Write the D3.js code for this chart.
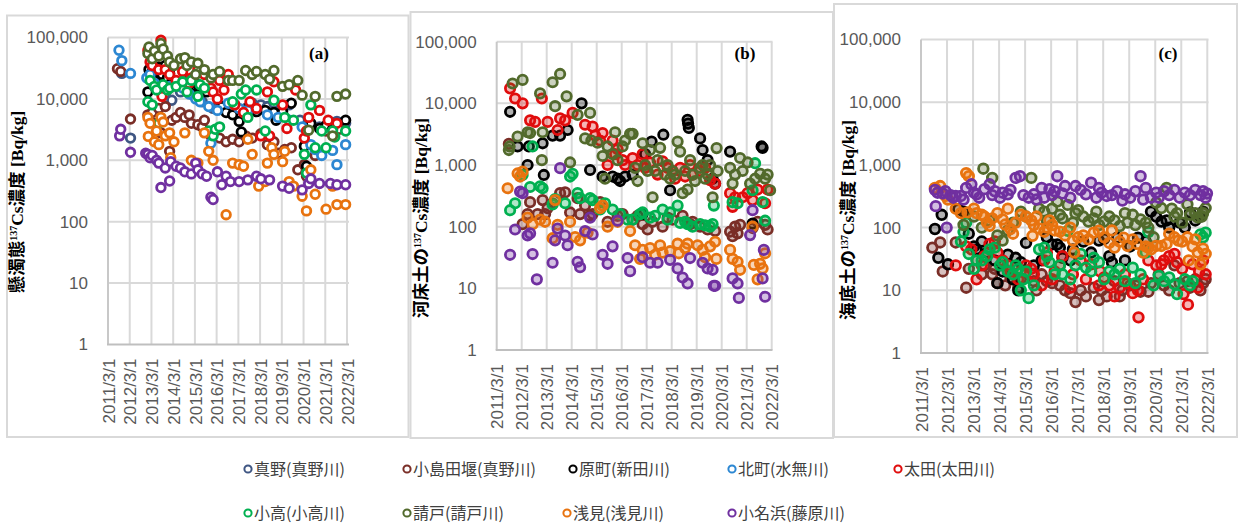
<!DOCTYPE html>
<html><head><meta charset="utf-8">
<script src="https://cdn.jsdelivr.net/npm/d3@7"></script>
<style>body{margin:0;background:#fff;}svg{display:block;}</style>
</head><body><svg id="chart" width="1239" height="524"></svg>
<script>
// ---------- DATA ----------
const seriesNames = ["真野(真野川)","小島田堰(真野川)","原町(新田川)","北町(水無川)","太田(太田川)","小高(小高川)","請戸(請戸川)","浅見(浅見川)","小名浜(藤原川)"];
const yTickValues = [1,10,100,1000,10000,100000];
const yTickLabels = ["1","10","100","1,000","10,000","100,000"];
const xTickYears = [2011,2012,2013,2014,2015,2016,2017,2018,2019,2020,2021,2022];
const xTickLabels = ["2011/3/1","2012/3/1","2013/3/1","2014/3/1","2015/3/1","2016/3/1","2017/3/1","2018/3/1","2019/3/1","2020/3/1","2021/3/1","2022/3/1"];
const panelLabels = ["(a)","(b)","(c)"];
const titlePrefixes = ["懸濁態","河床土の","海底土の"];

// Panel (a) suspended solids  [decimal year, Bq/kg]
const a_mano = [[2011.8,26000],[2012.2,2300],[2013.0,22000],[2013.3,17000],[2013.8,12000],[2014.1,9500],[2014.5,13000],[2015.0,12000],[2015.5,9000],[2016.0,7000],[2016.5,7500],[2017.0,8000],[2017.5,7000],[2017.8,8500],[2018.2,8000],[2018.5,7500],[2018.8,8500],[2019.2,7000],[2019.5,8000],[2020.0,4500],[2020.5,1400],[2020.9,3500],[2021.3,3800],[2021.7,4300],[2022.1,4000]];
const a_kojima = [[2011.6,31000],[2011.75,28000],[2012.2,4700],[2013.0,5500],[2013.2,6000],[2013.3,4000],[2013.5,7000],[2013.6,2800],[2013.8,7500],[2014.0,1400],[2014.1,4500],[2014.3,5000],[2014.5,6000],[2014.7,5000],[2014.9,5500],[2015.0,4000],[2015.3,3800],[2015.5,3500],[2015.6,4500],[2015.9,2500],[2016.0,3000],[2016.3,2300],[2016.6,2000],[2016.9,2200],[2017.2,2000],[2017.5,2500],[2017.8,2300],[2018.2,2700],[2018.5,1800],[2018.8,2000],[2019.0,1300],[2019.3,1500],[2019.6,1600],[2019.9,700],[2020.2,850],[2020.3,550],[2020.7,1200],[2021.2,3000],[2021.5,3500],[2021.8,3200]];
const a_hara = [[2013.0,13000],[2013.05,30000],[2013.1,25000],[2013.2,28000],[2013.3,20000],[2013.4,15000],[2013.5,33000],[2013.6,28000],[2013.65,25000],[2013.7,32000],[2013.8,35000],[2013.9,22000],[2014.0,26000],[2014.1,19000],[2014.2,20000],[2014.4,18000],[2014.6,19000],[2014.8,17000],[2014.9,20000],[2015.0,18000],[2015.2,16000],[2015.3,17000],[2015.5,15000],[2015.6,14000],[2015.7,13000],[2016.4,7500],[2016.6,6000],[2016.9,5500],[2017.2,4300],[2017.3,2900],[2017.5,5500],[2017.7,8000],[2018.0,6200],[2018.4,6500],[2018.8,6000],[2018.9,4500],[2019.2,6200],[2019.6,8500],[2020.2,1700],[2020.3,800],[2020.5,4000],[2020.9,3300],[2021.2,3700],[2021.5,3200],[2022.1,4500]];
const a_kitamachi = [[2011.67,62000],[2011.8,42000],[2012.2,26000],[2012.95,22000],[2013.1,25000],[2013.3,18000],[2013.6,14000],[2014.0,16000],[2014.6,15000],[2014.9,12000],[2015.2,10000],[2015.4,9000],[2015.8,7500],[2015.9,1900],[2016.2,6500],[2016.7,8500],[2017.2,7000],[2017.6,6500],[2018.0,7000],[2018.5,5500],[2019.0,5000],[2019.5,4500],[2020.1,3500],[2020.5,1800],[2020.7,1500],[2021.0,1200],[2021.5,1450],[2021.7,850],[2022.1,1800]];
const a_ota = [[2013.0,62000],[2013.1,40000],[2013.2,35000],[2013.4,55000],[2013.5,30000],[2013.6,90000],[2013.65,11000],[2013.8,30000],[2014.0,25000],[2014.3,20000],[2014.6,28000],[2014.9,18000],[2015.0,22000],[2015.3,30000],[2015.6,25000],[2015.9,15000],[2016.0,13000],[2016.2,10000],[2016.3,20000],[2016.5,14000],[2016.7,25000],[2017.0,8000],[2017.4,6000],[2017.7,9000],[2018.0,7000],[2018.2,2500],[2018.5,13000],[2018.6,2500],[2018.8,19000],[2019.2,8000],[2019.4,3300],[2019.8,14000],[2020.2,2300],[2020.3,3000],[2020.4,5000],[2020.9,6500],[2021.3,4500],[2021.7,4000]];
const a_odaka = [[2013.0,9000],[2013.1,20000],[2013.2,8000],[2013.3,16000],[2013.4,14000],[2013.5,4000],[2013.7,17000],[2013.9,14000],[2014.0,15000],[2014.3,16000],[2014.6,19000],[2014.8,13000],[2015.0,20000],[2015.3,11000],[2015.4,17000],[2015.6,15000],[2015.8,3000],[2016.0,2500],[2016.1,3200],[2016.3,3500],[2016.9,9000],[2017.3,12000],[2017.5,14000],[2017.6,5000],[2018.0,14000],[2018.4,3000],[2018.8,9500],[2019.3,5000],[2019.7,4500],[2020.2,1250],[2020.3,620],[2020.5,8000],[2020.7,1600],[2021.0,3000],[2021.2,1600],[2021.5,3000],[2021.6,2400],[2022.1,3000]];
const a_ukedo = [[2013.0,55000],[2013.05,70000],[2013.2,45000],[2013.3,60000],[2013.5,50000],[2013.6,80000],[2013.7,65000],[2013.9,50000],[2014.0,40000],[2014.2,35000],[2014.5,45000],[2014.7,47000],[2014.8,35000],[2015.0,40000],[2015.2,25000],[2015.3,38000],[2015.6,30000],[2015.9,22000],[2016.0,25000],[2016.3,28000],[2016.7,20000],[2016.9,20000],[2017.2,20000],[2017.5,29000],[2017.8,25000],[2018.0,28000],[2018.4,25000],[2018.6,21000],[2018.8,29000],[2019.2,16000],[2019.5,17000],[2019.9,20000],[2020.1,11500],[2020.4,3100],[2020.7,11000],[2021.5,2500],[2021.7,11000],[2022.1,12000]];
const a_azami = [[2013.0,5000],[2013.02,2450],[2013.1,4000],[2013.3,2000],[2013.4,3000],[2013.5,1800],[2013.6,5000],[2013.7,4200],[2013.8,2500],[2014.0,2800],[2014.05,1100],[2014.2,2000],[2014.7,2800],[2015.0,1000],[2015.3,900],[2015.6,2800],[2015.8,1400],[2016.0,1000],[2016.6,130],[2016.9,900],[2017.2,850],[2017.4,800],[2017.6,2200],[2017.8,1250],[2018.1,380],[2018.4,450],[2018.5,900],[2018.7,1600],[2018.8,1250],[2019.2,950],[2019.3,1400],[2019.5,450],[2019.7,380],[2020.1,260],[2020.3,150],[2020.5,700],[2020.7,280],[2021.2,160],[2021.5,380],[2021.7,190],[2022.1,190]];
const a_onahama = [[2011.7,2500],[2011.75,3200],[2012.2,1350],[2012.9,1300],[2013.0,1250],[2013.1,1100],[2013.2,1200],[2013.4,1000],[2013.5,900],[2013.6,360],[2013.8,750],[2014.0,460],[2014.05,950],[2014.3,800],[2014.5,750],[2014.7,650],[2015.0,600],[2015.2,900],[2015.3,700],[2015.5,600],[2015.7,550],[2015.9,250],[2016.0,230],[2016.2,650],[2016.4,400],[2016.6,550],[2016.8,450],[2017.2,450],[2017.6,480],[2018.0,550],[2018.2,500],[2018.6,480],[2019.2,380],[2019.5,350],[2020.1,330],[2020.4,420],[2020.5,500],[2020.9,420],[2021.4,420],[2021.7,400],[2022.1,400]];

// Panel (b) river-bed sediment
const b_mano = [];
const b_kojima = [[2011.65,2200],[2012.2,110],[2012.4,160],[2012.5,250],[2012.8,160],[2013.0,270],[2013.1,160],[2013.2,200],[2013.4,240],[2013.7,350],[2013.9,360],[2014.1,170],[2014.4,290],[2014.5,160],[2014.7,220],[2014.9,150],[2015.0,160],[2015.3,250],[2015.6,120],[2016.0,150],[2016.2,160],[2016.6,130],[2016.8,150],[2017.0,110],[2017.2,90],[2017.4,120],[2017.8,100],[2018.0,140],[2018.2,130],[2018.6,150],[2018.9,110],[2019.0,120],[2019.3,100],[2019.6,90],[2019.9,85],[2020.5,83],[2020.6,70],[2020.7,100],[2020.8,78],[2020.9,107],[2021.4,95],[2021.6,120],[2021.9,107],[2022.0,90]];
const b_hara = [[2011.7,7300],[2012.0,2000],[2012.4,1000],[2012.45,2000],[2013.0,2250],[2013.05,690],[2013.4,3000],[2013.7,3000],[2014.0,3700],[2014.56,10000],[2014.9,830],[2015.4,650],[2015.8,650],[2016.0,600],[2016.1,550],[2016.3,650],[2016.6,700],[2017.0,160],[2017.1,1500],[2017.36,2400],[2017.83,3100],[2018.1,390],[2018.8,5400],[2018.82,4700],[2018.85,4000],[2019.3,2700],[2019.4,1750],[2019.6,1200],[2019.8,600],[2019.9,500],[2020.5,1650],[2021.4,112],[2021.76,2000],[2021.8,1900]];
const b_kitamachi = [];
const b_ota = [[2011.7,17500],[2011.9,12000],[2012.2,10000],[2012.5,5300],[2012.7,5000],[2012.97,12000],[2013.2,5000],[2013.6,3700],[2013.7,5700],[2013.9,5300],[2014.2,7000],[2014.7,4500],[2015.0,4200],[2015.1,3000],[2015.3,2500],[2015.4,3300],[2015.6,1000],[2015.8,2500],[2015.9,1500],[2016.0,1800],[2016.2,1200],[2016.3,1000],[2016.6,1300],[2016.8,1000],[2017.0,1500],[2017.1,900],[2017.3,1100],[2017.6,700],[2017.8,1150],[2018.0,900],[2018.2,800],[2018.3,600],[2018.5,900],[2018.7,650],[2018.9,1000],[2019.0,700],[2019.3,800],[2019.5,900],[2019.7,570],[2019.9,500],[2020.5,350],[2020.6,210],[2020.7,300],[2021.0,300],[2021.2,350],[2021.4,270],[2021.6,400],[2021.9,240],[2022.0,400]];
const b_odaka = [[2011.7,185],[2011.9,240],[2012.2,690],[2012.5,440],[2012.6,2000],[2012.9,450],[2013.0,420],[2013.4,230],[2013.5,280],[2013.9,240],[2014.1,650],[2014.2,720],[2014.4,350],[2014.5,290],[2014.9,290],[2015.0,270],[2015.3,190],[2015.5,240],[2015.8,190],[2016.1,160],[2016.4,130],[2016.6,130],[2016.9,160],[2017.0,170],[2017.3,140],[2017.5,150],[2017.8,190],[2018.0,130],[2018.1,170],[2018.4,220],[2018.5,115],[2018.7,120],[2018.8,110],[2019.0,100],[2019.3,110],[2019.5,105],[2019.7,100],[2019.8,110],[2019.85,220],[2020.6,250],[2020.8,240],[2021.4,390],[2021.5,1070],[2021.8,250],[2021.9,125]];
const b_ukedo = [[2011.65,1750],[2011.68,2000],[2011.8,21000],[2012.0,2900],[2012.2,24000],[2012.4,3400],[2012.5,3300],[2012.9,14500],[2012.97,1200],[2013.0,3400],[2013.4,22000],[2013.5,9000],[2013.7,30000],[2013.96,13000],[2014.1,1100],[2014.4,6500],[2014.7,2700],[2014.9,7000],[2014.95,2500],[2015.2,2300],[2015.4,1400],[2015.5,600],[2015.6,2000],[2015.8,1500],[2015.9,3400],[2016.0,1200],[2016.2,2000],[2016.3,2500],[2016.5,3200],[2016.6,3200],[2016.7,900],[2016.8,550],[2017.0,2250],[2017.1,1000],[2017.2,800],[2017.3,1750],[2017.4,300],[2017.5,800],[2017.6,1200],[2017.7,1900],[2017.9,700],[2018.0,1000],[2018.1,600],[2018.2,800],[2018.3,700],[2018.4,2400],[2018.5,1650],[2018.6,350],[2018.7,800],[2018.8,400],[2018.9,1200],[2019.0,700],[2019.1,550],[2019.3,900],[2019.4,1000],[2019.5,600],[2019.6,700],[2019.7,1000],[2019.8,300],[2019.96,1880],[2020.0,800],[2020.5,900],[2020.6,500],[2020.7,700],[2020.9,1300],[2021.0,800],[2021.2,1100],[2021.3,500],[2021.5,600],[2021.7,720],[2021.9,600],[2022.0,700],[2022.1,390]];
const b_azami = [[2011.6,420],[2012.0,730],[2012.1,650],[2012.2,780],[2012.4,140],[2012.6,110],[2012.9,130],[2013.1,120],[2013.4,65],[2013.5,270],[2013.6,107],[2014.1,120],[2014.3,68],[2014.5,60],[2014.8,80],[2015.3,200],[2015.4,220],[2015.6,100],[2016.0,120],[2016.5,85],[2016.7,50],[2016.9,30],[2017.0,42],[2017.3,45],[2017.5,35],[2017.7,50],[2017.8,38],[2018.1,40],[2018.4,53],[2018.45,37],[2018.7,45],[2018.8,53],[2019.2,50],[2019.4,42],[2019.5,32],[2019.7,48],[2019.9,57],[2019.95,30],[2020.5,42],[2020.6,30],[2020.8,27],[2020.9,20],[2021.4,100],[2021.45,24],[2021.6,14],[2021.7,25],[2021.8,21],[2021.9,37]];
const b_onahama = [[2011.7,35],[2011.9,90],[2012.1,370],[2012.2,350],[2012.4,72],[2012.5,78],[2012.6,36],[2012.77,14],[2013.4,26],[2013.5,60],[2013.6,93],[2013.7,890],[2013.9,72],[2014.0,50],[2014.4,27],[2014.5,22],[2014.7,85],[2014.9,140],[2015.0,75],[2015.4,35],[2015.6,25],[2015.8,48],[2016.0,125],[2016.4,31],[2016.5,19],[2017.0,32],[2017.3,26],[2017.6,26],[2018.1,29],[2018.4,21],[2018.6,15],[2018.8,12],[2018.9,31],[2019.4,26],[2019.6,21],[2019.8,20],[2019.85,11],[2019.9,11],[2020.6,14.5],[2020.8,12],[2020.85,7],[2021.3,73],[2021.4,185],[2021.8,14.5],[2021.85,42],[2021.9,7.3]];

// Panel (c) sea-bottom sediment
const c_mano = [];
const c_kojima = [[2011.6,48],[2011.9,58],[2012.0,20],[2012.5,58],[2012.9,11],[2013.0,22],[2013.3,30],[2013.5,18],[2013.6,25],[2013.9,18],[2014.0,22],[2014.1,13],[2014.3,25],[2014.4,12],[2014.6,16],[2014.9,11],[2015.0,15],[2015.2,20],[2015.5,14],[2015.6,10],[2015.8,18],[2016.0,14],[2016.2,13],[2016.5,12],[2016.7,10],[2016.9,9],[2017.1,6.5],[2017.3,10],[2017.5,8],[2017.8,11],[2018.0,7],[2018.1,10],[2018.3,8],[2018.6,14],[2018.8,8],[2018.9,10],[2019.2,12],[2019.4,12],[2019.6,9.5],[2019.9,9.5],[2020.0,13],[2020.3,18],[2020.5,12],[2020.7,10],[2020.9,25],[2021.1,13],[2021.4,14],[2021.5,11],[2021.7,15],[2021.9,10],[2022.0,13],[2022.1,15]];
const c_hara = [[2011.7,95],[2011.83,33],[2011.96,160],[2012.2,26],[2012.6,195],[2012.8,180],[2013.0,80],[2013.2,50],[2013.3,45],[2013.5,60],[2013.7,40],[2014.0,30],[2014.1,13],[2014.3,20],[2014.5,37],[2014.7,15],[2014.8,33],[2014.9,10],[2015.0,28],[2015.2,57],[2015.5,25],[2015.8,30],[2016.0,70],[2016.2,54],[2016.4,54],[2016.5,48],[2016.6,33],[2016.9,30],[2017.0,45],[2017.4,60],[2017.7,40],[2018.0,62],[2018.2,66],[2018.4,35],[2018.5,28],[2018.7,69],[2019.0,30],[2019.2,50],[2019.5,69],[2019.8,60],[2020.0,180],[2020.2,150],[2020.4,125],[2020.6,130],[2020.7,100],[2021.1,120],[2021.3,100],[2021.5,175],[2021.7,130],[2021.9,150],[2022.0,180]];
const c_kitamachi = [];
const c_ota = [[2012.5,25],[2012.9,50],[2013.1,45],[2013.3,15],[2013.5,25],[2013.6,35],[2013.8,55],[2014.0,60],[2014.1,40],[2014.3,30],[2014.5,25],[2014.6,20],[2014.9,15],[2015.0,20],[2015.2,25],[2015.4,22],[2015.5,18],[2015.8,12],[2015.9,30],[2016.0,40],[2016.2,15],[2016.3,20],[2016.5,25],[2016.6,35],[2016.9,11],[2017.0,18],[2017.3,30],[2017.5,15],[2017.7,26],[2018.0,12],[2018.05,20],[2018.2,16],[2018.4,12],[2018.6,8],[2018.8,11],[2019.0,18],[2019.1,13],[2019.3,9],[2019.5,10],[2019.52,3.7],[2019.7,15],[2019.9,30],[2020.2,25],[2020.4,26],[2020.5,30],[2020.7,35],[2020.9,38],[2021.0,28],[2021.2,22],[2021.25,8.7],[2021.42,5.9],[2021.6,26],[2021.8,11],[2021.85,20],[2022.0,30],[2022.1,18]];
const c_odaka = [[2012.7,60],[2012.8,85],[2012.9,120],[2013.0,38],[2013.2,22],[2013.3,30],[2013.5,30],[2013.7,35],[2013.8,45],[2014.0,48],[2014.2,25],[2014.3,28],[2014.5,20],[2014.7,18],[2014.8,25],[2014.9,22],[2015.0,10],[2015.1,15],[2015.2,20],[2015.3,7.5],[2015.5,12],[2015.7,45],[2015.9,48],[2016.0,35],[2016.1,28],[2016.3,18],[2016.5,25],[2016.6,18],[2016.8,89],[2016.9,15],[2017.1,25],[2017.3,38],[2017.5,23],[2017.7,20],[2017.8,33],[2018.0,28],[2018.2,15],[2018.4,20],[2018.6,18],[2018.8,22],[2019.0,14],[2019.3,23],[2019.4,13],[2019.6,18],[2019.8,40],[2019.9,85],[2020.1,12],[2020.3,17],[2020.5,14],[2020.7,16],[2020.9,12.5],[2021.0,8.7],[2021.3,15],[2021.5,12],[2021.6,14],[2021.9,78],[2022.0,70],[2022.1,83]];
const c_ukedo = [[2012.8,110],[2013.2,150],[2013.5,100],[2013.56,870],[2013.8,130],[2013.9,620],[2014.1,75],[2014.3,62],[2014.5,90],[2014.7,120],[2015.0,180],[2015.2,150],[2015.4,620],[2015.7,200],[2015.9,180],[2016.0,130],[2016.2,200],[2016.4,260],[2016.5,160],[2016.6,140],[2016.8,230],[2017.0,120],[2017.1,170],[2017.2,190],[2017.4,150],[2017.6,125],[2017.8,140],[2017.9,180],[2018.0,110],[2018.2,125],[2018.4,150],[2018.6,130],[2018.8,106],[2019.0,170],[2019.1,120],[2019.3,160],[2019.4,110],[2019.6,135],[2019.8,120],[2019.9,100],[2020.1,70],[2020.2,250],[2020.4,205],[2020.6,430],[2020.8,200],[2020.9,150],[2021.0,170],[2021.2,120],[2021.4,235],[2021.5,160],[2021.7,170],[2021.8,145],[2021.95,150],[2022.0,170],[2022.1,205]];
const c_azami = [[2011.7,430],[2011.9,460],[2012.1,320],[2012.2,280],[2012.5,200],[2012.7,170],[2012.9,740],[2012.95,175],[2013.0,660],[2013.2,200],[2013.3,170],[2013.5,160],[2013.6,150],[2013.7,120],[2013.8,107],[2013.9,140],[2014.1,170],[2014.3,135],[2014.4,112],[2014.5,200],[2014.6,95],[2014.7,80],[2014.8,120],[2015.0,160],[2015.2,150],[2015.4,130],[2015.45,74],[2015.5,110],[2015.6,150],[2015.7,97],[2015.9,86],[2016.0,100],[2016.1,130],[2016.2,110],[2016.3,90],[2016.5,86],[2016.7,75],[2016.9,100],[2017.0,62],[2017.05,40],[2017.2,70],[2017.4,75],[2017.6,65],[2017.8,83],[2018.0,89],[2018.2,70],[2018.4,57],[2018.5,90],[2018.6,48],[2018.8,60],[2018.95,69],[2019.1,51],[2019.3,65],[2019.46,55],[2019.7,40],[2019.8,50],[2019.9,48],[2020.0,45],[2020.2,51],[2020.4,51],[2020.6,55],[2020.7,80],[2020.9,70],[2021.05,62],[2021.2,60],[2021.4,70],[2021.45,30],[2021.6,50],[2021.7,65],[2021.8,40],[2021.9,26],[2022.0,46],[2022.1,38]];
const c_onahama = [[2011.7,400],[2011.73,220],[2011.8,360],[2012.0,350],[2012.1,380],[2012.15,100],[2012.3,330],[2012.4,300],[2012.5,320],[2012.7,320],[2012.8,280],[2012.9,430],[2013.1,490],[2013.2,360],[2013.3,340],[2013.4,300],[2013.6,410],[2013.8,490],[2013.9,330],[2014.0,380],[2014.2,300],[2014.3,360],[2014.5,340],[2014.6,400],[2014.8,620],[2014.97,660],[2015.1,330],[2015.3,300],[2015.5,340],[2015.6,280],[2015.8,430],[2015.9,300],[2016.1,410],[2016.2,330],[2016.3,380],[2016.4,660],[2016.6,350],[2016.7,460],[2016.9,300],[2017.1,460],[2017.3,400],[2017.5,340],[2017.7,520],[2017.9,300],[2018.0,430],[2018.1,360],[2018.3,320],[2018.5,330],[2018.7,380],[2018.9,270],[2019.0,340],[2019.2,300],[2019.4,380],[2019.6,660],[2019.7,280],[2019.8,430],[2020.0,300],[2020.2,360],[2020.3,300],[2020.5,380],[2020.7,330],[2020.9,400],[2021.1,300],[2021.3,360],[2021.5,330],[2021.7,400],[2021.9,330],[2022.0,380],[2022.1,300],[2022.15,350]];

// ---------- STYLE / LAYOUT ----------
const seriesColors = ["#3f5683","#7a2e27","#000000","#2c87d2","#e00d0d","#00b050","#526a2c","#e8730f","#7030a0"];
const panelData = [
  [a_mano,a_kojima,a_hara,a_kitamachi,a_ota,a_odaka,a_ukedo,a_azami,a_onahama],
  [b_mano,b_kojima,b_hara,b_kitamachi,b_ota,b_odaka,b_ukedo,b_azami,b_onahama],
  [c_mano,c_kojima,c_hara,c_kitamachi,c_ota,c_odaka,c_ukedo,c_azami,c_onahama]
];
const layout = [
  {frame:[7,15.5,408.5,437], left:108, x22:347, right:349, top:37.5, bottom:344.5, lab:[319,59], title:[17,202], r:4.3, fill:"white", fop:1},
  {frame:[410.5,12,833,438], left:496.7, x22:771.7, right:772.5, top:41.7, bottom:350, lab:[745,59], title:[421,218], r:4.7, fill:"color", fop:0.3},
  {frame:[834,4,1237,437], left:921, x22:1207.3, right:1208.5, top:39.5, bottom:353, lab:[1168,59], title:[848,220], r:4.8, fill:"color", fop:0.3}
];
const T0 = 2011.164;
const svg = d3.select("#chart");

layout.forEach((L, pi) => {
  const g = svg.append("g");
  g.append("rect").attr("x",L.frame[0]).attr("y",L.frame[1])
    .attr("width",L.frame[2]-L.frame[0]).attr("height",L.frame[3]-L.frame[1])
    .attr("fill","none").attr("stroke","#d9d9d9").attr("stroke-width",2);

  const x = d3.scaleLinear().domain([T0, T0+11]).range([L.left, L.x22]);
  const y = d3.scaleLog().domain([1,100000]).range([L.bottom, L.top]);

  g.append("g").selectAll("line").data(yTickValues.slice(1)).join("line")
    .attr("x1",L.left).attr("x2",L.right).attr("y1",d=>y(d)).attr("y2",d=>y(d))
    .attr("stroke","#d9d9d9").attr("stroke-width",2);
  g.append("g").selectAll("line").data(xTickYears.slice(1)).join("line")
    .attr("x1",d=>x(d-2011+T0)).attr("x2",d=>x(d-2011+T0)).attr("y1",L.top).attr("y2",L.bottom)
    .attr("stroke","#d9d9d9").attr("stroke-width",2);
  g.append("line").attr("x1",L.left).attr("x2",L.left).attr("y1",L.top).attr("y2",L.bottom)
    .attr("stroke","#c8c8c8").attr("stroke-width",2);
  g.append("line").attr("x1",L.left-1).attr("x2",L.right).attr("y1",L.bottom).attr("y2",L.bottom)
    .attr("stroke","#bfbfbf").attr("stroke-width",2);

  const ya = g.append("g").attr("transform",`translate(${L.left},0)`)
    .call(d3.axisLeft(y).tickValues(yTickValues).tickFormat((d,i)=>yTickLabels[i]).tickSize(0).tickPadding(20));
  ya.select(".domain").remove();
  ya.selectAll("text").attr("font-family","'Liberation Sans',Arial,sans-serif").attr("font-size",17).attr("fill","#595959");

  const xa = g.append("g").attr("transform",`translate(0,${L.bottom})`)
    .call(d3.axisBottom(x).tickValues(xTickYears.map(d=>d-2011+T0)).tickFormat((d,i)=>xTickLabels[i]).tickSize(0));
  xa.select(".domain").remove();
  xa.selectAll("text").attr("font-family","'Liberation Sans',Arial,sans-serif").attr("font-size",17).attr("fill","#595959")
    .attr("transform","rotate(-90)").attr("text-anchor","end").attr("x",-14).attr("y",0).attr("dy","0.36em");

  panelData[pi].forEach((ser, si) => {
    g.append("g").selectAll("circle").data(ser).join("circle")
      .attr("cx",d=>x(d[0])).attr("cy",d=>y(d[1])).attr("r",L.r)
      .attr("fill", L.fill==="white" ? "#ffffff" : seriesColors[si])
      .attr("fill-opacity", L.fop)
      .attr("stroke", seriesColors[si]).attr("stroke-width",2.8);
  });

  g.append("text").attr("x",L.lab[0]).attr("y",L.lab[1]).attr("text-anchor","middle")
    .attr("font-family","'Liberation Serif','Times New Roman',serif").attr("font-weight","bold").attr("font-size",17)
    .attr("fill","#000").text(panelLabels[pi]);

  const t = g.append("text").attr("transform",`translate(${L.title[0]},${L.title[1]}) rotate(-90)`)
    .attr("text-anchor","middle").attr("dy","0.35em").attr("font-weight","bold").attr("fill","#000").attr("font-size",17.5);
  t.append("tspan").attr("font-family","'Noto Sans CJK JP',sans-serif").text(titlePrefixes[pi]);
  t.append("tspan").attr("font-family","'Liberation Serif',serif").attr("font-size",10).attr("dy",-6).text("137");
  t.append("tspan").attr("font-family","'Liberation Serif',serif").attr("dy",6).text("Cs");
  t.append("tspan").attr("font-family","'Noto Sans CJK JP',sans-serif").text("濃度");
  t.append("tspan").attr("font-family","'Liberation Serif',serif").text(" [Bq/kg]");
});

const legendPos = [[248,469],[407,469],[573,469],[732,469],[898,469],[248,513],[407,513],[567,513],[732,513]];
const lg = svg.append("g");
seriesNames.forEach((name,i) => {
  const [lx,ly] = legendPos[i];
  lg.append("circle").attr("cx",lx).attr("cy",ly).attr("r",3.6)
    .attr("fill","#fff").attr("stroke",seriesColors[i]).attr("stroke-width",2);
  lg.append("text").attr("x",lx+6).attr("y",ly).attr("dy","0.35em")
    .attr("font-family","'Noto Sans CJK JP',sans-serif").attr("font-size",16).attr("fill","#404040").text(name);
});
</script></body></html>
